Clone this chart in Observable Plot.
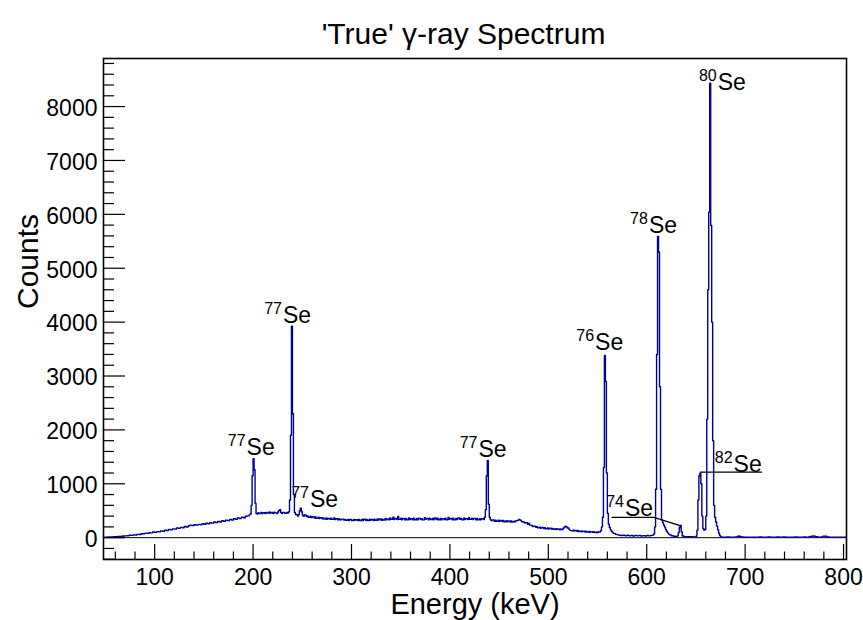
<!DOCTYPE html>
<html><head><meta charset="utf-8">
<script src="https://cdn.jsdelivr.net/npm/d3@7"></script>
<script src="https://cdn.jsdelivr.net/npm/@observablehq/plot@0.6"></script>
<style>
html,body{margin:0;padding:0;background:#fff;}
#chart svg{display:block;}
</style></head><body><div id="chart"></div>
<script>
// ---- data: [bin low edge (keV), counts] ----
const continuumLow = [[48,8],[50,10],[52,12],[54,13],[56,15],[58,18],[60,20],[62,22],[64,25],[66,27],[68,30],[70,34],[72,37],[74,44],[76,42],[78,52],[80,50],[82,62],[84,60],[86,72],[88,74],[90,84],[92,80],[94,92],[96,90],[98,104],[100,98],[102,112],[104,110],[106,126],[108,120],[110,138],[112,134],[114,152],[116,146],[118,164],[120,158],[122,180],[124,172],[126,192],[128,184],[130,206],[132,198],[134,220],[136,232],[138,226],[140,240],[142,232],[144,246],[146,238],[148,260],[150,248],[152,268],[154,258],[156,280],[158,270],[160,290],[162,280],[164,302],[166,292],[168,314],[170,304],[172,326],[174,316],[176,338],[178,328],[180,350],[182,340],[184,364],[186,354],[188,378],[190,370],[192,398],[194,404],[196,424]];
const peak200 = [[197,440],[198,600],[199,1150],[200,1466],[201,1260],[202,640],[203,450]];
const continuum204 = [[204,440],[205,462],[206,448],[208,470],[209,450],[210,462],[212,448],[213,470],[214,458],[216,476],[217,452],[218,468],[220,450],[221,474],[222,460],[224,448],[225,476],[226,506],[227,520],[228,466],[229,450],[230,470],[232,452],[234,468],[235,456],[236,480]];
const peak239 = [[237,700],[238,1900],[239,3926],[240,2300],[241,800],[242,470]];
const continuum243 = [[243,430],[245,400],[246,424],[247,500],[248,545],[249,480],[250,420],[251,398],[252,420],[254,392],[255,404],[256,380],[258,400],[259,372],[260,390],[262,364],[263,386],[264,358],[266,380],[267,356],[268,372],[270,350],[271,366],[272,346],[274,364],[275,340],[276,356],[278,342],[279,362],[280,340],[282,368],[283,338],[284,352],[286,334],[287,350],[288,332],[290,344],[292,326],[293,340],[294,322],[296,338],[297,320],[298,336],[300,318],[302,340],[303,322],[304,334],[306,316],[307,336],[308,320],[310,338],[311,318],[312,342],[314,322],[315,338],[316,320],[318,344],[319,324],[320,338],[322,320],[323,342],[324,324],[326,346],[327,326],[328,348],[330,322],[331,344],[332,328],[334,352],[335,330],[336,348],[338,330],[339,366],[340,340],[342,380],[343,338],[344,356],[346,336],[347,392],[348,340],[350,362],[351,334],[352,356],[354,330],[355,358],[356,334],[358,366],[359,336],[360,352],[362,330],[363,360],[364,334],[366,356],[367,332],[368,362],[370,336],[371,354],[372,330],[374,372],[375,340],[376,358],[378,334],[379,362],[380,336],[382,356],[383,332],[384,364],[386,338],[387,360],[388,334],[390,358],[391,330],[392,354],[394,336],[395,362],[396,334],[398,374],[399,340],[400,356],[402,332],[403,362],[404,334],[406,358],[407,336],[408,366],[410,340],[411,358],[412,332],[414,364],[415,336],[416,354],[418,338],[419,370],[420,340],[422,362],[423,336],[424,358],[426,334],[427,356],[428,330],[430,352],[431,334],[432,350],[434,336]];
const peak438 = [[435,380],[436,520],[437,1150],[438,1434],[439,620],[440,380]];
const continuum441 = [[441,334],[442,316],[443,330],[445,306],[446,326],[447,304],[449,324],[450,300],[451,318],[453,298],[454,320],[455,296],[457,316],[458,294],[459,312],[461,292],[462,310],[463,290],[465,306],[466,294],[467,316],[469,324],[470,340],[471,330],[472,312],[473,296],[475,286],[476,270],[477,278],[479,250],[480,262],[481,232],[483,222],[484,206],[485,214],[487,192],[488,204],[489,184],[491,196],[492,176],[493,190],[495,170],[496,184],[497,166],[499,180],[500,162],[501,176],[503,158],[504,172],[505,156],[507,168],[508,150],[509,162],[511,148],[512,160],[513,152],[515,176],[516,196],[517,212],[518,204],[519,180],[521,150],[522,136],[523,128],[525,140],[526,122],[527,134],[529,118],[530,132],[531,114],[533,126],[534,110],[535,122],[537,106],[538,118],[539,104],[541,116],[542,100],[543,112],[545,98],[546,110],[547,96],[549,108],[550,94],[551,104],[553,130],[554,200],[555,380]];
const peak558 = [[556,1300],[557,3380],[558,2900],[559,1200],[560,450],[561,250],[562,190],[563,145],[564,118],[565,96],[566,80],[568,62],[570,52],[572,46],[574,40],[576,44],[578,36],[580,44],[582,34],[584,40],[586,32],[588,42],[590,34],[592,40],[594,30],[596,38],[598,32],[600,40],[602,34],[604,42],[606,48],[607,70]];
const peaks611to675 = [[608,200],[609,900],[610,3400],[611,5590],[612,5300],[613,2800],[614,900],[615,330],[616,280],[617,236],[618,196],[619,154],[620,118],[621,90],[622,70],[623,52],[625,36],[627,26],[629,22],[631,34],[632,90],[633,190],[634,228],[635,110],[636,30],[638,20],[641,16],[644,20],[647,15],[650,26],[651,140],[652,700],[653,1150],[654,1198],[655,1000],[656,400],[657,170],[658,140],[659,150],[660,400],[661,2200],[662,4600],[663,6040],[664,8434],[665,5794],[666,4000],[667,1800],[668,600],[669,380],[670,290],[671,215],[672,145],[673,84],[674,38],[675,16]];
const continuumHigh = [[676,10],[678,8],[681,12],[684,8],[687,11],[690,14],[692,24],[693,34],[694,22],[696,12],[699,9],[702,8],[705,11],[708,7],[711,10],[714,12],[717,7],[720,11],[723,13],[726,8],[729,9],[732,12],[735,10],[738,13],[741,8],[744,11],[747,9],[750,12],[753,8],[756,11],[759,13],[762,9],[765,16],[767,26],[769,30],[771,16],[774,11],[777,15],[779,28],[781,26],[783,12],[786,9],[789,11],[792,10],[795,8],[798,11],[801,9],[803,9]];

// peak labels: mass number, energy & count of label anchor (left of "Se", baseline)
const labelMass   = ["77", "77", "77", "77", "76", "78", "80", "74", "82"];
const labelEnergy = [193.4, 230.4, 257.8, 429, 547.5, 602.2, 672.1, 577.9, 688.3];
const labelCounts = [1527, 3976, 562, 1490, 3475, 5646, 8316, 395, 1211];
// leader lines
const leader74E = [564.7, 607.3, 634.6];
const leader74C = [377, 377, 219];
const leader82E = [654.6, 716.7];
const leader82C = [1217, 1217];

const xTickLabels = [100, 200, 300, 400, 500, 600, 700, 800];
const yTickLabels = [0, 1000, 2000, 3000, 4000, 5000, 6000, 7000, 8000];
const titleText = "'True' γ-ray Spectrum";
const xTitle = "Energy (keV)";
const yTitle = "Counts";

// ---- build ----
const spectrum = [].concat(continuumLow, peak200, continuum204, peak239, continuum243, peak438, continuum441, peak558, peaks611to675, continuumHigh)
  .map(([e, c]) => ({e, c}));
const labels = labelMass.map((m, i) => ({m, e: labelEnergy[i], c: labelCounts[i]}));
const lead74 = leader74E.map((e, i) => ({e, c: leader74C[i]}));
const lead82 = leader82E.map((e, i) => ({e, c: leader82C[i]}));
const xMinor = d3.range(60, 803, 20).filter(v => v % 100 !== 0);
const yMinor = d3.range(-400, 8890, 200).filter(v => v % 1000 !== 0);

const W = 863, H = 620, mL = 103, mR = 17, mT = 58, mB = 61;
const fw = W - mL - mR, fh = H - mT - mB;
const font = "'Liberation Sans', Arial, Helvetica, sans-serif";

const chart = Plot.plot({
  width: W, height: H,
  marginLeft: mL, marginRight: mR, marginTop: mT, marginBottom: mB,
  style: {fontFamily: font, fontSize: "23px", color: "black", background: "white"},
  x: {domain: [48, 803], axis: null},
  y: {domain: [-405, 8892], axis: null},
  marks: [
    Plot.ruleY([0], {stroke: "black", strokeWidth: 1}),
    Plot.line(spectrum, {x: "e", y: "c", curve: "step-after", stroke: "#000099", strokeWidth: 1.4, clip: true}),
    Plot.line(lead74, {x: "e", y: "c", stroke: "black", strokeWidth: 1.2}),
    Plot.line(lead82, {x: "e", y: "c", stroke: "black", strokeWidth: 1.2}),
    // ticks (inside the frame)
    Plot.tickX(xTickLabels, {x: d => d, insetTop: fh - 15, stroke: "black", strokeWidth: 1.2}),
    Plot.tickX(xMinor, {x: d => d, insetTop: fh - 7.5, stroke: "black", strokeWidth: 1.2}),
    Plot.tickY(yTickLabels, {y: d => d, insetRight: fw - 22, stroke: "black", strokeWidth: 1.2}),
    Plot.tickY(yMinor, {y: d => d, insetRight: fw - 11, stroke: "black", strokeWidth: 1.2}),
    Plot.frame({stroke: "black", strokeWidth: 1.6}),
    // tick labels
    Plot.text(xTickLabels, {x: d => d, text: d => String(d), frameAnchor: "bottom", dy: 9, lineAnchor: "top", fontSize: 23, fill: "black"}),
    Plot.text(yTickLabels, {y: d => d, text: d => String(d), frameAnchor: "left", dx: -6, dy: 2, textAnchor: "end", lineAnchor: "middle", fontSize: 23, fill: "black"}),
    // axis titles and title
    Plot.text([xTitle], {text: d => d, frameAnchor: "bottom", dy: 54, lineAnchor: "bottom", fontSize: 29, fill: "black"}),
    Plot.text([yTitle], {text: d => d, frameAnchor: "left", dx: -66, rotate: -90, lineAnchor: "bottom", fontSize: 30, fill: "black"}),
    Plot.text([titleText], {text: d => d, frameAnchor: "top", dx: -11.5, dy: -15, lineAnchor: "bottom", fontSize: 30, fill: "black"}),
    // peak labels
    Plot.text(labels, {x: "e", y: "c", text: "m", textAnchor: "end", dx: -1, dy: -9, lineAnchor: "bottom", fontSize: 16, fill: "black"}),
    Plot.text(labels, {x: "e", y: "c", text: () => "Se", textAnchor: "start", lineAnchor: "bottom", fontSize: 23, fill: "black"})
  ]
});
document.getElementById("chart").appendChild(chart);
</script></body></html>
